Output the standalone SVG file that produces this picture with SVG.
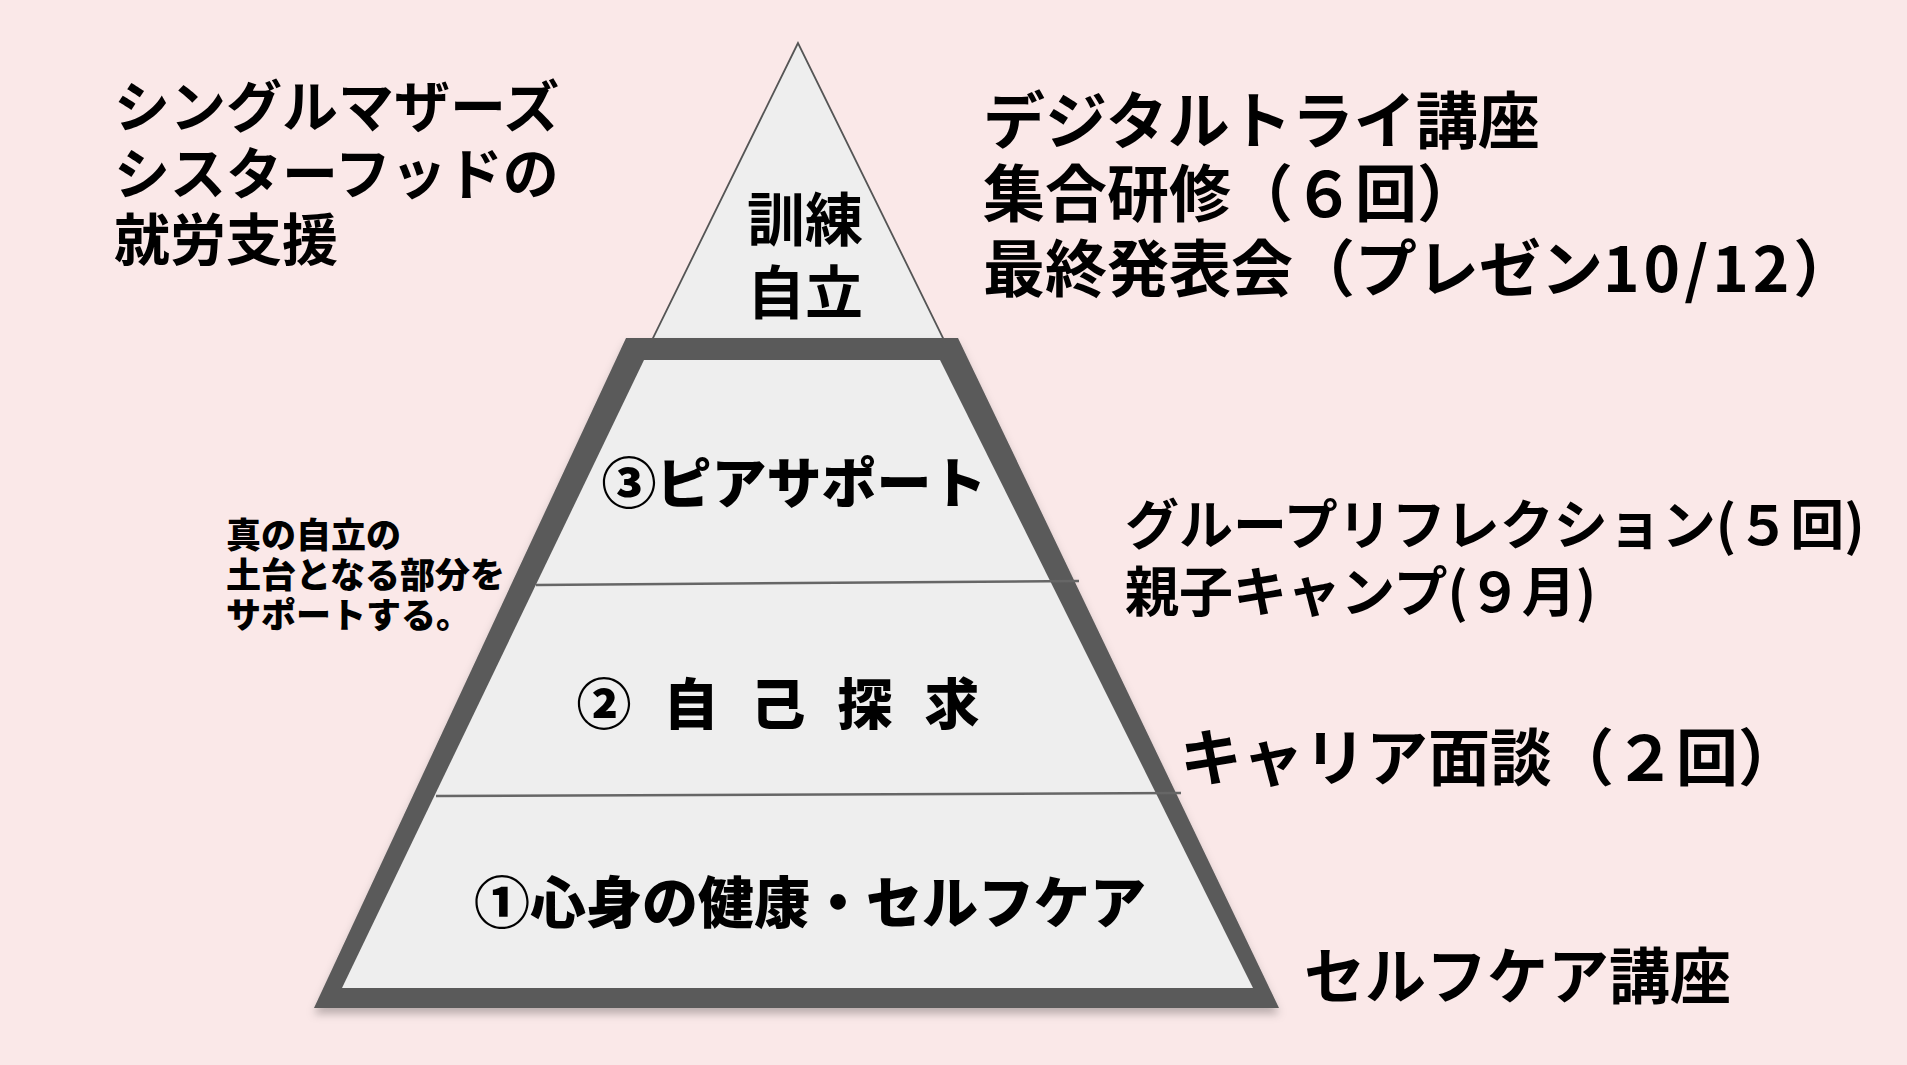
<svg xmlns="http://www.w3.org/2000/svg" width="1907" height="1065" viewBox="0 0 1907 1065">
<defs>
<style>
text{font-family:"Noto Sans CJK JP","Noto Sans",sans-serif;font-weight:700;fill:#000;}
.big{font-size:62px;}
.title{font-size:56px;}
.lvl{font-size:55px;font-weight:900;text-anchor:middle;}
.note{font-size:35px;font-weight:900;}
.div{stroke:#666;stroke-width:2.5;fill:none;}
</style>
<filter id="sh" x="-5%" y="-5%" width="110%" height="115%">
<feDropShadow dx="0" dy="6" stdDeviation="4" flood-color="#000" flood-opacity="0.25"/>
</filter>
</defs>
<rect width="1907" height="1065" fill="#fae8e8"/>
<g id="apex">
<polygon points="798,43 652,340 944,340" fill="#eeeeee" stroke="#555" stroke-width="1.8"/>
<text class="lvl" x="805" style="font-size:58px;font-weight:700"><tspan x="805" y="241">訓練</tspan><tspan x="805" y="314">自立</tspan></text>
</g>
<g id="pyramid">
<polygon points="626,338 958,338 1279,1008 314,1008" fill="#5a5a5a" filter="url(#sh)"/>
<polygon points="644,360 940,360 1253,988 342,988" fill="#eeeeee"/>
</g>
<g id="dividers">
<line class="div" x1="536" y1="585" x2="1079" y2="581"/>
<line class="div" x1="436" y1="796" x2="1181" y2="793"/>
</g>
<g id="level3"><text class="lvl" x="794" y="503">③ピアサポート</text></g>
<g id="level2"><text class="lvl" x="794" y="724" style="letter-spacing:32px">②自己探求</text></g>
<g id="level1"><text class="lvl" x="810" y="923" style="font-size:56px">①心身の健康・セルフケア</text></g>
<g id="title">
<text class="title"><tspan x="114" y="127">シングルマザーズ</tspan><tspan x="114" y="194">シスターフッドの</tspan><tspan x="114" y="260">就労支援</tspan></text>
</g>
<g id="note">
<text class="note"><tspan x="226" y="548">真の自立の</tspan><tspan x="226" y="588">土台となる部分を</tspan><tspan x="226" y="628">サポートする。</tspan></text>
</g>
<g id="top-programs">
<text class="big"><tspan x="983" y="144">デジタルトライ講座</tspan><tspan x="983" y="217">集合研修（６回）</tspan><tspan x="983" y="292">最終発表会（プレゼン<tspan style="letter-spacing:4px">10/12</tspan>）</tspan></text>
</g>
<g id="peer-programs">
<text class="big" style="font-size:54px"><tspan x="1125" y="545">グループリフレクション(５回)</tspan><tspan x="1125" y="612">親子キャンプ(９月)</tspan></text>
</g>
<g id="career"><text class="big" x="1180" y="781">キャリア面談（２回）</text></g>
<g id="selfcare"><text class="big" x="1304" y="999" style="font-size:61px">セルフケア講座</text></g>
</svg>
